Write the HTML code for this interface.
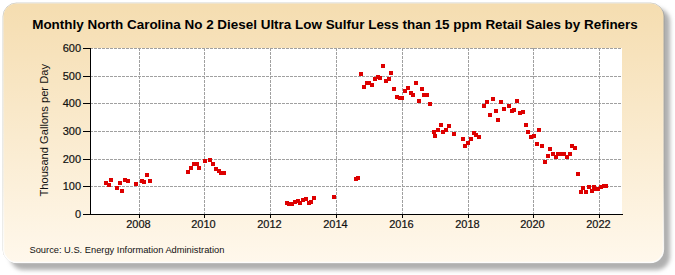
<!DOCTYPE html>
<html><head><meta charset="utf-8"><style>
html,body{margin:0;padding:0;background:#fff;width:675px;height:275px;overflow:hidden}
svg{display:block}
text{font-family:"Liberation Sans",sans-serif}
</style></head><body>
<svg width="675" height="275" viewBox="0 0 675 275">
<defs>
<linearGradient id="bg" x1="0" y1="0" x2="0" y2="1">
<stop offset="0" stop-color="#F5DDB0"/>
<stop offset="1" stop-color="#FFF8EC"/>
</linearGradient>
<linearGradient id="rim" x1="0" y1="0" x2="0" y2="1"><stop offset="0" stop-color="#fff" stop-opacity="0"/><stop offset="0.7" stop-color="#fff" stop-opacity="0.2"/><stop offset="1" stop-color="#fff" stop-opacity="0.95"/></linearGradient>
<filter id="sh" x="-5%" y="-10%" width="115%" height="125%">
<feGaussianBlur stdDeviation="2.2"/>
</filter>
<filter id="sb" x="-2%" y="-2%" width="104%" height="104%"><feGaussianBlur stdDeviation="0.5"/></filter>
</defs>
<rect x="10" y="8" width="660" height="262" rx="14" ry="14" fill="#b0b0b0" filter="url(#sh)"/>
<rect x="3" y="3" width="661" height="260" rx="13.5" ry="13.5" fill="none" stroke="rgba(120,120,110,0.35)" stroke-width="1" filter="url(#sb)"/>
<rect x="3.5" y="3.5" width="660" height="259" rx="13" ry="13" fill="url(#bg)" stroke="url(#rim)" stroke-width="1.5" filter="url(#sb)"/>
<rect x="91" y="48" width="531" height="166" fill="#ffffff"/>
<g stroke="#a0a0a0" stroke-width="1" stroke-dasharray="3,1"><line x1="90" y1="186.5" x2="622" y2="186.5"/><line x1="90" y1="159.5" x2="622" y2="159.5"/><line x1="90" y1="131.5" x2="622" y2="131.5"/><line x1="90" y1="103.5" x2="622" y2="103.5"/><line x1="90" y1="76.5" x2="622" y2="76.5"/><line x1="90" y1="48.5" x2="622" y2="48.5"/><line x1="139.5" y1="48" x2="139.5" y2="214"/><line x1="204.5" y1="48" x2="204.5" y2="214"/><line x1="270.5" y1="48" x2="270.5" y2="214"/><line x1="336.5" y1="48" x2="336.5" y2="214"/><line x1="402.5" y1="48" x2="402.5" y2="214"/><line x1="468.5" y1="48" x2="468.5" y2="214"/><line x1="533.5" y1="48" x2="533.5" y2="214"/><line x1="599.5" y1="48" x2="599.5" y2="214"/></g>
<g stroke="#000" stroke-width="1"><line x1="139.5" y1="215" x2="139.5" y2="218"/><line x1="204.5" y1="215" x2="204.5" y2="218"/><line x1="270.5" y1="215" x2="270.5" y2="218"/><line x1="336.5" y1="215" x2="336.5" y2="218"/><line x1="402.5" y1="215" x2="402.5" y2="218"/><line x1="468.5" y1="215" x2="468.5" y2="218"/><line x1="533.5" y1="215" x2="533.5" y2="218"/><line x1="599.5" y1="215" x2="599.5" y2="218"/><line x1="83" y1="214.5" x2="90" y2="214.5"/><line x1="83" y1="186.5" x2="90" y2="186.5"/><line x1="83" y1="159.5" x2="90" y2="159.5"/><line x1="83" y1="131.5" x2="90" y2="131.5"/><line x1="83" y1="103.5" x2="90" y2="103.5"/><line x1="83" y1="76.5" x2="90" y2="76.5"/><line x1="83" y1="48.5" x2="90" y2="48.5"/></g>
<line x1="90.5" y1="48" x2="90.5" y2="215" stroke="#000" stroke-width="1"/>
<line x1="90" y1="214.5" x2="623" y2="214.5" stroke="#000" stroke-width="1"/>
<g fill="#DD0000"><rect x="104" y="181" width="4" height="4"/>
<rect x="107" y="183" width="4" height="4"/>
<rect x="109" y="178" width="4" height="4"/>
<rect x="115" y="186" width="4" height="4"/>
<rect x="118" y="181" width="4" height="4"/>
<rect x="120" y="189" width="4" height="4"/>
<rect x="123" y="178" width="4" height="4"/>
<rect x="126" y="179" width="4" height="4"/>
<rect x="134" y="182" width="4" height="4"/>
<rect x="140" y="179" width="4" height="4"/>
<rect x="142" y="180" width="4" height="4"/>
<rect x="145" y="173" width="4" height="4"/>
<rect x="148" y="179" width="4" height="4"/>
<rect x="186" y="170" width="4" height="4"/>
<rect x="189" y="166" width="4" height="4"/>
<rect x="192" y="162" width="4" height="4"/>
<rect x="195" y="162" width="4" height="4"/>
<rect x="197" y="166" width="4" height="4"/>
<rect x="203" y="159" width="4" height="4"/>
<rect x="208" y="158" width="4" height="4"/>
<rect x="211" y="162" width="4" height="4"/>
<rect x="214" y="167" width="4" height="4"/>
<rect x="217" y="169" width="4" height="4"/>
<rect x="219" y="171" width="4" height="4"/>
<rect x="222" y="171" width="4" height="4"/>
<rect x="285" y="201" width="4" height="4"/>
<rect x="287" y="202" width="4" height="4"/>
<rect x="290" y="202" width="4" height="4"/>
<rect x="293" y="200" width="4" height="4"/>
<rect x="296" y="199" width="4" height="4"/>
<rect x="298" y="201" width="4" height="4"/>
<rect x="301" y="198" width="4" height="4"/>
<rect x="304" y="197" width="4" height="4"/>
<rect x="307" y="201" width="4" height="4"/>
<rect x="309" y="200" width="4" height="4"/>
<rect x="312" y="196" width="4" height="4"/>
<rect x="332" y="195" width="4" height="4"/>
<rect x="354" y="177" width="4" height="4"/>
<rect x="356" y="176" width="4" height="4"/>
<rect x="359" y="72" width="4" height="4"/>
<rect x="362" y="85" width="4" height="4"/>
<rect x="365" y="81" width="4" height="4"/>
<rect x="367" y="81" width="4" height="4"/>
<rect x="370" y="83" width="4" height="4"/>
<rect x="373" y="77" width="4" height="4"/>
<rect x="376" y="75" width="4" height="4"/>
<rect x="378" y="76" width="4" height="4"/>
<rect x="381" y="64" width="4" height="4"/>
<rect x="384" y="79" width="4" height="4"/>
<rect x="387" y="77" width="4" height="4"/>
<rect x="389" y="71" width="4" height="4"/>
<rect x="392" y="87" width="4" height="4"/>
<rect x="395" y="95" width="4" height="4"/>
<rect x="398" y="96" width="4" height="4"/>
<rect x="400" y="96" width="4" height="4"/>
<rect x="403" y="89" width="4" height="4"/>
<rect x="406" y="86" width="4" height="4"/>
<rect x="409" y="91" width="4" height="4"/>
<rect x="411" y="93" width="4" height="4"/>
<rect x="414" y="81" width="4" height="4"/>
<rect x="417" y="99" width="4" height="4"/>
<rect x="420" y="87" width="4" height="4"/>
<rect x="422" y="93" width="4" height="4"/>
<rect x="425" y="93" width="4" height="4"/>
<rect x="428" y="102" width="4" height="4"/>
<rect x="432" y="130" width="4" height="4"/>
<rect x="433" y="134" width="4" height="4"/>
<rect x="436" y="128" width="4" height="4"/>
<rect x="439" y="123" width="4" height="4"/>
<rect x="441" y="130" width="4" height="4"/>
<rect x="444" y="128" width="4" height="4"/>
<rect x="447" y="124" width="4" height="4"/>
<rect x="452" y="132" width="4" height="4"/>
<rect x="461" y="137" width="4" height="4"/>
<rect x="463" y="144" width="4" height="4"/>
<rect x="466" y="141" width="4" height="4"/>
<rect x="469" y="137" width="4" height="4"/>
<rect x="472" y="131" width="4" height="4"/>
<rect x="474" y="133" width="4" height="4"/>
<rect x="477" y="135" width="4" height="4"/>
<rect x="482" y="104" width="4" height="4"/>
<rect x="485" y="100" width="4" height="4"/>
<rect x="488" y="113" width="4" height="4"/>
<rect x="491" y="97" width="4" height="4"/>
<rect x="494" y="109" width="4" height="4"/>
<rect x="496" y="118" width="4" height="4"/>
<rect x="499" y="100" width="4" height="4"/>
<rect x="502" y="107" width="4" height="4"/>
<rect x="507" y="104" width="4" height="4"/>
<rect x="510" y="109" width="4" height="4"/>
<rect x="512" y="108" width="4" height="4"/>
<rect x="515" y="99" width="4" height="4"/>
<rect x="518" y="111" width="4" height="4"/>
<rect x="521" y="110" width="4" height="4"/>
<rect x="524" y="123" width="4" height="4"/>
<rect x="526" y="130" width="4" height="4"/>
<rect x="529" y="135" width="4" height="4"/>
<rect x="532" y="134" width="4" height="4"/>
<rect x="535" y="142" width="4" height="4"/>
<rect x="537" y="128" width="4" height="4"/>
<rect x="540" y="144" width="4" height="4"/>
<rect x="543" y="160" width="4" height="4"/>
<rect x="546" y="154" width="4" height="4"/>
<rect x="548" y="147" width="4" height="4"/>
<rect x="551" y="152" width="4" height="4"/>
<rect x="554" y="155" width="4" height="4"/>
<rect x="556" y="152" width="4" height="4"/>
<rect x="559" y="152" width="4" height="4"/>
<rect x="562" y="152" width="4" height="4"/>
<rect x="565" y="155" width="4" height="4"/>
<rect x="568" y="152" width="4" height="4"/>
<rect x="570" y="144" width="4" height="4"/>
<rect x="573" y="146" width="4" height="4"/>
<rect x="576" y="172" width="4" height="4"/>
<rect x="579" y="190" width="4" height="4"/>
<rect x="581" y="186" width="4" height="4"/>
<rect x="584" y="190" width="4" height="4"/>
<rect x="587" y="185" width="4" height="4"/>
<rect x="590" y="189" width="4" height="4"/>
<rect x="592" y="185" width="4" height="4"/>
<rect x="594" y="187" width="4" height="4"/>
<rect x="596" y="187" width="4" height="4"/>
<rect x="599" y="185" width="4" height="4"/>
<rect x="602" y="184" width="4" height="4"/>
<rect x="604" y="184" width="4" height="4"/></g>
<g font-size="11" fill="#111" stroke="#111" stroke-width="0.2" text-anchor="end"><text x="81" y="218">0</text><text x="81" y="190">100</text><text x="81" y="163">200</text><text x="81" y="135">300</text><text x="81" y="107">400</text><text x="81" y="80">500</text><text x="81" y="52">600</text></g>
<g font-size="11" fill="#111" stroke="#111" stroke-width="0.2" text-anchor="middle"><text x="138.5" y="227.5">2008</text><text x="203.5" y="227.5">2010</text><text x="269.5" y="227.5">2012</text><text x="335.5" y="227.5">2014</text><text x="401.5" y="227.5">2016</text><text x="467.5" y="227.5">2018</text><text x="532.5" y="227.5">2020</text><text x="598.5" y="227.5">2022</text></g>
<text x="335" y="29" font-size="13.45" font-weight="bold" fill="#000" text-anchor="middle">Monthly North Carolina No 2 Diesel Ultra Low Sulfur Less than 15 ppm Retail Sales by Refiners</text>
<text transform="translate(47.5,130.3) rotate(-90)" font-size="11.15" fill="#111" text-anchor="middle">Thousand Gallons per Day</text>
<text x="29.5" y="253" font-size="9.3" fill="#111">Source: U.S. Energy Information Administration</text>
</svg>
</body></html>
